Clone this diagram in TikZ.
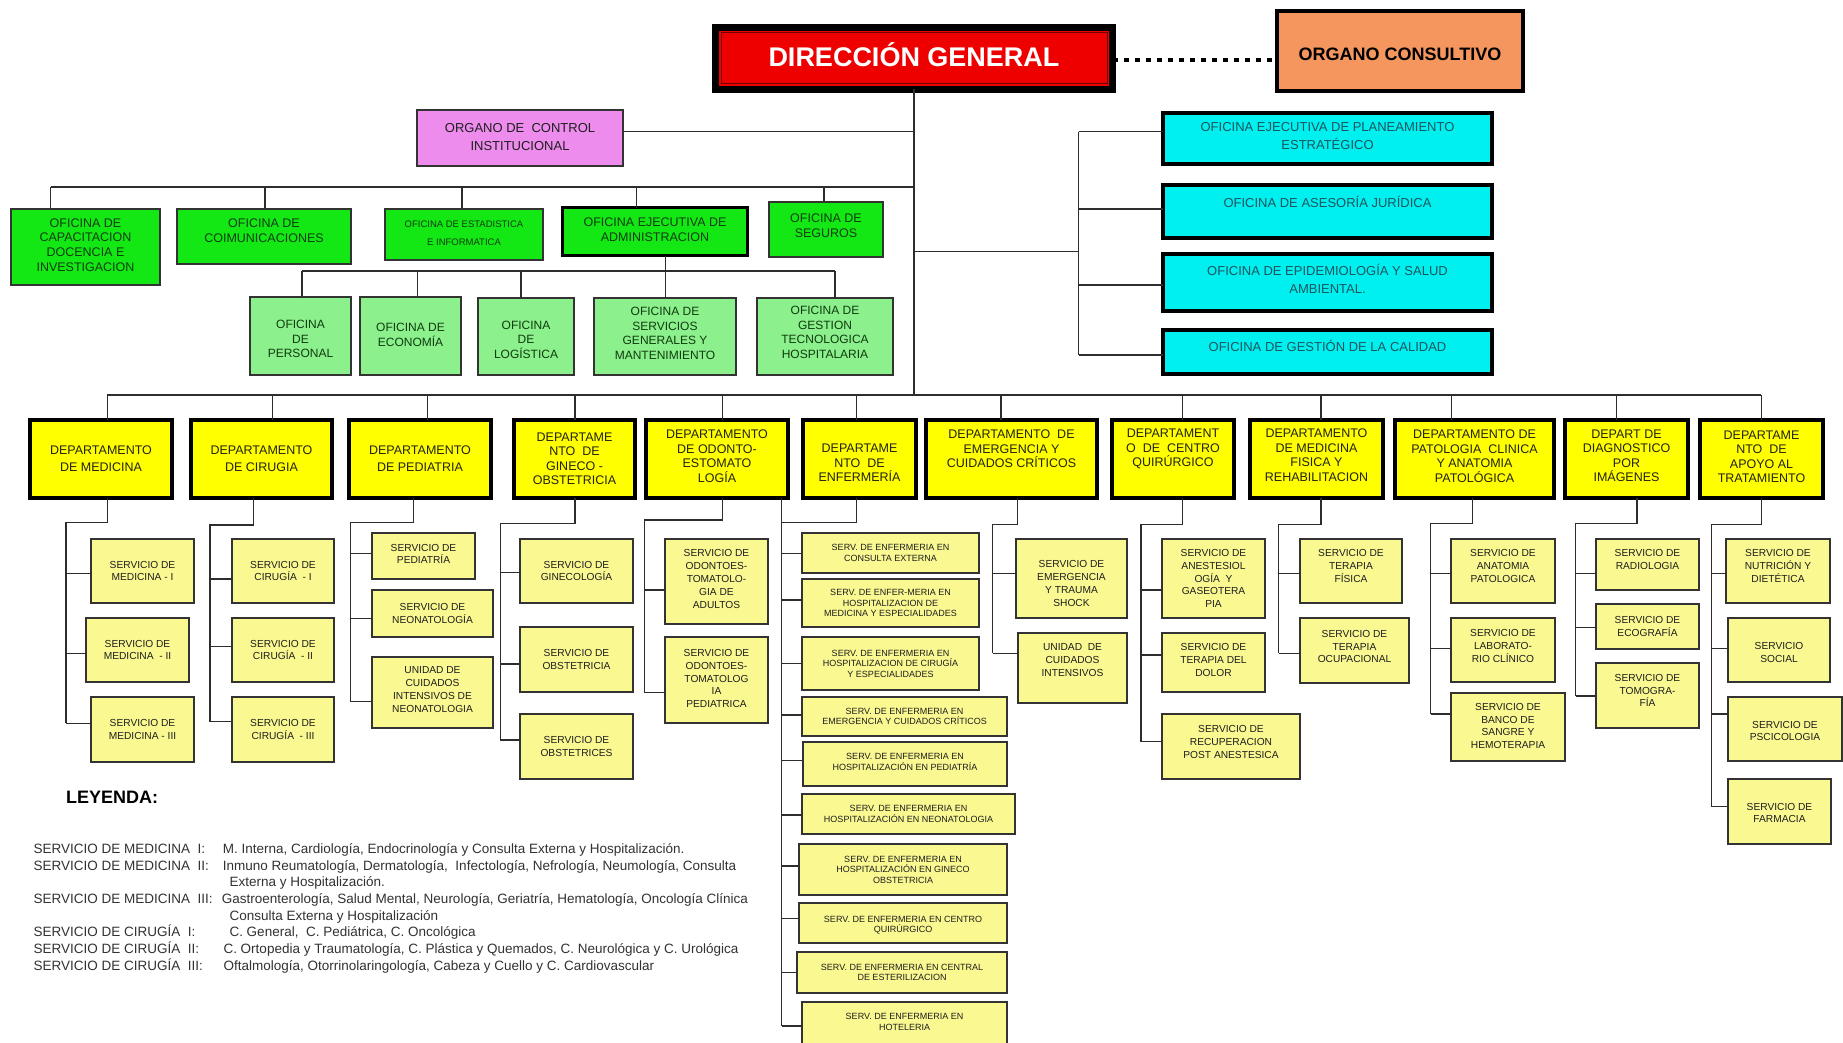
\documentclass[tikz,border=0pt]{standalone}
\usepackage{fontspec}
\setmainfont{Liberation Sans}
\definecolor{dgred}{RGB}{238,0,0}
\definecolor{dgdark}{RGB}{110,0,0}
\definecolor{ocorange}{RGB}{245,150,95}
\definecolor{pinkbox}{RGB}{238,140,238}
\definecolor{grnbox}{RGB}{20,232,20}
\definecolor{lgrnbox}{RGB}{140,240,140}
\definecolor{cyanbox}{RGB}{0,240,240}
\definecolor{yelbox}{RGB}{255,255,0}
\definecolor{pyelbox}{RGB}{250,248,145}
\definecolor{linec}{RGB}{45,45,45}
\definecolor{gtxt}{RGB}{15,60,15}
\definecolor{cytxt}{RGB}{25,85,95}
\definecolor{dtxt}{RGB}{35,35,20}
\definecolor{stxt}{RGB}{30,30,30}
\definecolor{legc}{RGB}{50,50,50}
\newcommand\obox[9]{%
  \pgfmathsetmacro\oxc{(#4+#6)/2}%
  \pgfmathsetmacro\oyc{(#5+#7)/2}%
  \pgfmathsetmacro\oyt{(#5+#7)/2+(#8)}%
  \pgfmathsetmacro\ow{#6-#4}%
  \pgfmathsetmacro\oh{#7-#5}%
  \node[#1, minimum width=\ow pt, minimum height=\oh pt] (#3) at (\oxc,\oyc) {};%
  \node[#2] (#3t) at (\oxc,\oyt) {#9};%
}
\begin{document}
\begin{tikzpicture}[x=1pt,y=-1pt,
  conn/.style={draw=linec, line width=1.3pt},
  bxbase/.style={rectangle, inner sep=0pt, outer sep=0pt},
  thinb/.style={bxbase, draw=black!80, line width=1.3pt},
  thickb/.style={bxbase, draw=black, line width=3.8pt},
  txtb/.style={align=center, inner sep=0pt},
  dgbox/.style={bxbase, draw=black, line width=7pt, fill=dgred},
  ocbox/.style={thickb, fill=ocorange},
  pkbox/.style={thinb, fill=pinkbox},
  gbox/.style={thinb, fill=grnbox},
  gboxk/.style={thickb, line width=3.2pt, fill=grnbox},
  lgbox/.style={thinb, fill=lgrnbox},
  cybox/.style={thickb, line width=3.5pt, fill=cyanbox},
  dbox/.style={thickb, fill=yelbox},
  sbox/.style={thinb, fill=pyelbox},
  dgt/.style={txtb, text=white, font=\fontsize{27}{32}\selectfont\bfseries},
  oct/.style={txtb, text=black, font=\fontsize{18}{22}\selectfont\bfseries},
  pkt/.style={txtb, text=stxt, font=\fontsize{13}{18}\selectfont},
  gt/.style={txtb, text=gtxt, font=\fontsize{12.5}{14.7}\selectfont},
  gst/.style={txtb, text=gtxt, font=\fontsize{9.5}{18}\selectfont},
  lgt/.style={txtb, text=gtxt, font=\fontsize{12}{14.5}\selectfont},
  cyt/.style={txtb, text=cytxt, font=\fontsize{13}{18}\selectfont},
  dt/.style={txtb, text=dtxt, font=\fontsize{12.5}{14.5}\selectfont},
  st/.style={txtb, text=stxt, font=\fontsize{10.2}{12.8}\selectfont},
  et/.style={txtb, text=stxt, font=\fontsize{9}{10.6}\selectfont},
  legt/.style={anchor=base west, inner sep=0pt, text=legc, font=\fontsize{13.5}{16}\selectfont},
  leyt/.style={anchor=base west, inner sep=0pt, text=black, font=\fontsize{18}{22}\selectfont\bfseries},
  dotline/.style={draw=black, line width=4pt, dash pattern=on 5pt off 6pt}
]
\useasboundingbox (0,0) rectangle (1843,1043);
\clip (0,0) rectangle (1843,1043);
\fill[white] (0,0) rectangle (1843,1043);

% ---------- top ----------
\obox{dgbox}{dgt}{dg}{715.5}{27.5}{1112.5}{89.5}{-3.5}{DIRECCIÓN GENERAL}
\draw[dgdark, line width=1pt] ([shift={(5.5,5.5)}]dg.north west) rectangle ([shift={(-5.5,-5.5)}]dg.south east);
\obox{ocbox}{oct}{oc}{1277}{11}{1523}{91}{3.5}{ORGANO CONSULTIVO}
\obox{pkbox}{pkt}{oci}{417}{110}{623}{166}{-1}{ORGANO DE~ CONTROL\\INSTITUCIONAL}

% green row
\obox{gbox}{gt}{g1}{11}{209}{160}{285}{-2}{OFICINA DE\\CAPACITACION\\DOCENCIA E\\INVESTIGACION}
\obox{gbox}{gt}{g2}{177}{209}{351}{264}{-6}{OFICINA DE\\COIMUNICACIONES}
\obox{gbox}{gst}{g3}{385}{209}{543}{260}{-1}{OFICINA DE ESTADISTICA\\E INFORMATICA}
\obox{gboxk}{gt}{g4}{562.5}{207.5}{747.5}{255.5}{-2}{OFICINA EJECUTIVA DE\\ADMINISTRACION}
\obox{gbox}{gt}{g5}{769}{202}{883}{257}{-4}{OFICINA DE\\SEGUROS}

% light green row
\obox{lgbox}{lgt}{l1}{250}{297}{351}{375}{3}{OFICINA\\DE\\PERSONAL}
\obox{lgbox}{lgt}{l2}{360}{297}{461}{375}{-1}{OFICINA DE\\ECONOMÍA}
\obox{lgbox}{lgt}{l3}{478}{298}{574}{375}{3}{OFICINA\\DE\\LOGÍSTICA}
\obox{lgbox}{lgt}{l4}{594}{298}{736}{375}{-3}{OFICINA DE\\SERVICIOS\\GENERALES Y\\MANTENIMIENTO}
\obox{lgbox}{lgt}{l5}{757}{298}{893}{375}{-4}{OFICINA DE\\GESTION\\TECNOLOGICA\\HOSPITALARIA}

% cyan column
\obox{cybox}{cyt}{c1}{1163}{113}{1492}{164}{-2}{OFICINA EJECUTIVA DE PLANEAMIENTO\\ESTRATÉGICO}
\obox{cybox}{cyt}{c2}{1163}{185}{1492}{238}{-10}{OFICINA DE ASESORÍA JURÍDICA}
\obox{cybox}{cyt}{c3}{1163}{254}{1492}{311}{-4}{OFICINA DE EPIDEMIOLOGÍA Y SALUD\\AMBIENTAL.}
\obox{cybox}{cyt}{c4}{1163}{330}{1492}{374}{-6}{OFICINA DE GESTIÓN DE LA CALIDAD}

% ---------- departments ----------
\obox{dbox}{dt}{d1}{30}{420}{172}{498}{0}{DEPARTAMENTO\\[2.5pt]DE MEDICINA}
\obox{dbox}{dt}{d2}{191}{420}{332}{498}{0}{DEPARTAMENTO\\[2.5pt]DE CIRUGIA}
\obox{dbox}{dt}{d3}{349}{420}{491}{498}{0}{DEPARTAMENTO\\[2.5pt]DE PEDIATRIA}
\obox{dbox}{dt}{d4}{514}{420}{635}{498}{0}{DEPARTAME\\NTO~ DE\\GINECO -\\OBSTETRICIA}
\obox{dbox}{dt}{d5}{646}{420}{788}{498}{-3}{DEPARTAMENTO\\DE ODONTO-\\ESTOMATO\\LOGÍA}
\obox{dbox}{dt}{d6}{803}{420}{916}{498}{4}{DEPARTAME\\NTO~ DE\\ENFERMERÍA}
\obox{dbox}{dt}{d7}{926}{420}{1097}{498}{-10}{DEPARTAMENTO~ DE\\EMERGENCIA Y\\CUIDADOS CRÍTICOS}
\obox{dbox}{dt}{d8}{1112}{420}{1234}{498}{-10}{DEPARTAMENT\\O~ DE~ CENTRO\\QUIRÚRGICO}
\obox{dbox}{dt}{d9}{1250}{420}{1383}{498}{-4}{DEPARTAMENTO\\DE MEDICINA\\FISICA Y\\REHABILITACION}
\obox{dbox}{dt}{d10}{1395}{420}{1554}{498}{-3}{DEPARTAMENTO DE\\PATOLOGIA~ CLINICA\\Y ANATOMIA\\PATOLÓGICA}
\obox{dbox}{dt}{d11}{1565}{420}{1688}{498}{-3}{DEPART DE\\DIAGNOSTICO\\POR\\IMÁGENES}
\obox{dbox}{dt}{d12}{1700}{420}{1823}{498}{-2}{DEPARTAME\\NTO~ DE\\APOYO AL\\TRATAMIENTO}

% ---------- services ----------
\obox{sbox}{st}{s11}{91}{539}{194}{603}{0}{SERVICIO DE\\MEDICINA - I}
\obox{sbox}{st}{s12}{86}{618}{189}{682}{0}{SERVICIO DE\\MEDICINA~ - II}
\obox{sbox}{st}{s13}{91}{697}{194}{762}{0}{SERVICIO DE\\MEDICINA - III}
\obox{sbox}{st}{s21}{232}{539}{334}{603}{0}{SERVICIO DE\\CIRUGÍA~ - I}
\obox{sbox}{st}{s22}{232}{618}{334}{682}{0}{SERVICIO DE\\CIRUGÍA~ - II}
\obox{sbox}{st}{s23}{232}{697}{334}{762}{0}{SERVICIO DE\\CIRUGÍA~ - III}
\obox{sbox}{st}{s31}{372}{533}{475}{579}{-2}{SERVICIO DE\\PEDIATRÍA}
\obox{sbox}{st}{s32}{372}{590}{493}{637}{0}{SERVICIO DE\\NEONATOLOGÍA}
\obox{sbox}{st}{s33}{372}{657}{493}{728}{-3}{UNIDAD DE\\CUIDADOS\\INTENSIVOS DE\\NEONATOLOGIA}
\obox{sbox}{st}{s41}{520}{539}{633}{603}{0}{SERVICIO DE\\GINECOLOGÍA}
\obox{sbox}{st}{s42}{520}{627}{633}{692}{0}{SERVICIO DE\\OBSTETRICIA}
\obox{sbox}{st}{s43}{520}{714}{633}{779}{0}{SERVICIO DE\\OBSTETRICES}
\obox{sbox}{st}{s51}{665}{539}{768}{624}{-2.5}{SERVICIO DE\\ODONTOES-\\TOMATOLO-\\GIA DE\\ADULTOS}
\obox{sbox}{st}{s52}{665}{637}{768}{723}{-1.5}{SERVICIO DE\\ODONTOES-\\TOMATOLOG\\IA\\PEDIATRICA}
\obox{sbox}{et}{e1}{802}{533}{979}{573}{0}{SERV. DE ENFERMERIA EN\\CONSULTA EXTERNA}
\obox{sbox}{et}{e2}{802}{579}{979}{627}{0}{SERV. DE ENFER-MERIA EN\\HOSPITALIZACION DE\\MEDICINA Y ESPECIALIDADES}
\obox{sbox}{et}{e3}{802}{637}{979}{690}{0}{SERV. DE ENFERMERIA EN\\HOSPITALIZACION DE CIRUGÍA\\Y ESPECIALIDADES}
\obox{sbox}{et}{e4}{802}{697}{1007}{736}{0}{SERV. DE ENFERMERIA EN\\EMERGENCIA Y CUIDADOS CRÍTICOS}
\obox{sbox}{et}{e5}{803}{742}{1007}{786}{-2}{SERV. DE ENFERMERIA EN\\HOSPITALIZACIÓN EN PEDIATRÍA}
\obox{sbox}{et}{e6}{802}{794}{1015}{834}{0}{SERV. DE ENFERMERIA EN\\HOSPITALIZACIÓN EN NEONATOLOGIA}
\obox{sbox}{et}{e7}{799}{844}{1007}{895}{0}{SERV. DE ENFERMERIA EN\\HOSPITALIZACIÓN EN GINECO\\OBSTETRICIA}
\obox{sbox}{et}{e8}{799}{903}{1007}{943}{2}{SERV. DE ENFERMERIA EN CENTRO\\QUIRÚRGICO}
\obox{sbox}{et}{e9}{797}{952}{1007}{993}{0}{SERV. DE ENFERMERIA EN CENTRAL\\DE ESTERILIZACION}
\obox{sbox}{et}{e10}{802}{1002}{1007}{1060}{-9}{SERV. DE ENFERMERIA EN\\HOTELERIA}
\obox{sbox}{st}{s71}{1016}{539}{1127}{618}{5}{SERVICIO DE\\EMERGENCIA\\Y TRAUMA\\SHOCK}
\obox{sbox}{st}{s72}{1018}{633}{1127}{703}{-8}{UNIDAD~ DE\\CUIDADOS\\INTENSIVOS}
\obox{sbox}{st}{s81}{1162}{539}{1265}{618}{0}{SERVICIO DE\\ANESTESIOL\\OGÍA~ Y\\GASEOTERA\\PIA}
\obox{sbox}{st}{s82}{1162}{633}{1265}{692}{-2.5}{SERVICIO DE\\TERAPIA DEL\\DOLOR}
\obox{sbox}{st}{s83}{1162}{714}{1300}{779}{-4.5}{SERVICIO DE\\RECUPERACION\\POST ANESTESICA}
\obox{sbox}{st}{s91}{1300}{539}{1402}{603}{-5}{SERVICIO DE\\TERAPIA\\FÍSICA}
\obox{sbox}{st}{s92}{1300}{618}{1409}{683}{-4}{SERVICIO DE\\TERAPIA\\OCUPACIONAL}
\obox{sbox}{st}{s101}{1451}{539}{1555}{603}{-5}{SERVICIO DE\\ANATOMIA\\PATOLOGICA}
\obox{sbox}{st}{s102}{1451}{618}{1555}{682}{-4}{SERVICIO DE\\LABORATO-\\RIO CLÍNICO}
\obox{sbox}{st}{s103}{1451}{693}{1565}{761}{-1}{SERVICIO DE\\BANCO DE\\SANGRE Y\\HEMOTERAPIA}
\obox{sbox}{st}{s111}{1596}{539}{1699}{590}{-5}{SERVICIO DE\\RADIOLOGIA}
\obox{sbox}{st}{s112}{1596}{604}{1699}{649}{0}{SERVICIO DE\\ECOGRAFÍA}
\obox{sbox}{st}{s113}{1596}{663}{1699}{728}{-5}{SERVICIO DE\\TOMOGRA-\\FÍA}
\obox{sbox}{st}{s121}{1726}{539}{1830}{603}{-5}{SERVICIO DE\\NUTRICIÓN Y\\DIETÉTICA}
\obox{sbox}{st}{s122}{1728}{618}{1830}{682}{2.5}{SERVICIO\\SOCIAL}
\obox{sbox}{st}{s123}{1728}{697}{1842}{761}{2}{SERVICIO DE\\PSCICOLOGIA}
\obox{sbox}{st}{s124}{1728}{779}{1831}{844}{1.5}{SERVICIO DE\\FARMACIA}

% ---------- connectors: top ----------
\draw[dotline] (dg.east |- 0,60) -- (oc.west |- 0,60);
\coordinate (tD1) at (107.3,395);
\coordinate (tD12) at (1761.3,395);
\draw[conn] (dg.south) -- (dg.south |- tD1);
\draw[conn] (oci.east |- 0,131.7) -- (dg.south |- 0,131.7);
\coordinate (gb) at (50.7,187);
\draw[conn] (gb) -- (gb -| dg.south);
\foreach \c/\x in {g1/50.7, g2/265, g3/462, g4/636.7, g5/824}
  \draw[conn] (\x,187) -- (\c.north -| \x,187);
\coordinate (ab) at (665.3,271);
\coordinate (abL) at (301.7,271);
\coordinate (abR) at (835,271);
\draw[conn] (ab |- g4.south) -- (ab);
\draw[conn] (abL) -- (abR);
\foreach \c/\x in {l1/302, l2/417.3, l3/521, l4/665.3, l5/835}
  \draw[conn] (\x,271) -- (\c.north -| \x,271);
\coordinate (cv) at (1078.7,251.7);
\draw[conn] (cv -| dg.south) -- (cv);
\draw[conn] (cv |- 0,131.7) -- (cv |- 0,355);
\foreach \c/\y in {c1/131.7, c2/209, c3/285, c4/355}
  \draw[conn] (cv |- 0,\y) -- (\c.west |- 0,\y);

% ---------- connectors: departments ----------
\draw[conn] (tD1) -- (tD12);
\foreach \i/\x in {1/107.3, 2/272.7, 3/427.7, 4/575, 5/722.7, 6/856.7, 7/1001, 8/1182.7, 9/1321, 10/1451.3, 11/1616.3, 12/1761.3}
  \draw[conn] (\x,395) -- (d\i.north -| \x,395);
\foreach \i/\bxx/\ey/\sx/\ly in {1/107.3/522.7/66/723.3, 2/253.3/525/210/721.7, 3/413.3/522.7/350.7/701.7, 4/575/523.3/500.3/740, 5/722.7/520/644.3/692.7, 7/1017.7/524.3/992.7/653.3, 8/1182.7/524.3/1141/741.7, 9/1321/524.3/1278.7/653.3, 10/1472.3/523.3/1430.7/714, 11/1637/523.3/1575.7/696, 12/1761.3/524.3/1711.3/806.7}{
  \coordinate (bk\i) at (\bxx,\ey);
  \coordinate (sp\i) at (\sx,\ey);
  \draw[conn] (bk\i |- d\i.south) -- (bk\i) -- (sp\i) -- (sp\i |- 0,\ly);
}
\coordinate (bk6) at (856.7,522.3);
\coordinate (sp6) at (781.7,522.3);
\draw[conn] (bk6 |- d6.south) -- (bk6) -- (sp6);
\draw[conn] (sp6 |- d5.south) -- (sp6 |- 0,1026);

\foreach \s/\c/\y in {1/s11/573.3, 1/s12/653.3, 1/s13/723.3,
  2/s21/579, 2/s22/646.7, 2/s23/721.7,
  3/s31/553.3, 3/s32/618.3, 3/s33/701.7,
  4/s41/572.7, 4/s42/664, 4/s43/740,
  5/s51/590, 5/s52/692.7,
  6/e1/553.3, 6/e2/600, 6/e3/663.3, 6/e4/715, 6/e5/760.7, 6/e6/815, 6/e7/866, 6/e8/918.3, 6/e9/972.3, 6/e10/1026,
  7/s71/573.3, 7/s72/653.3,
  8/s81/590, 8/s82/655, 8/s83/741.7,
  9/s91/573.3, 9/s92/653.3,
  10/s101/573.3, 10/s102/648.3, 10/s103/714,
  11/s111/573.3, 11/s112/627.3, 11/s113/696,
  12/s121/573.3, 12/s122/648.3, 12/s123/714, 12/s124/806.7}
  \draw[conn] (sp\s |- 0,\y) -- (\c.west |- 0,\y);

% ---------- legend ----------
\node[leyt] (ley) at (66,803.3) {LEYENDA:};
\node[legt] (la1) at (33.3,853.3) {SERVICIO DE MEDICINA~ I:};
\node[legt] (lb1) at (222.7,853.3) {M. Interna, Cardiología, Endocrinología y Consulta Externa y Hospitalización.};
\node[legt] (la2) at (33.3,870) {SERVICIO DE MEDICINA~ II:};
\node[legt] (lb2) at (222.7,870) {Inmuno Reumatología, Dermatología,~ Infectología, Nefrología, Neumología, Consulta};
\node[legt] (lc2) at (229.3,886.7) {Externa y Hospitalización.};
\node[legt] (la3) at (33.3,903.3) {SERVICIO DE MEDICINA~ III:};
\node[legt] (lb3) at (221.7,903.3) {Gastroenterología, Salud Mental, Neurología, Geriatría, Hematología, Oncología Clínica};
\node[legt] (lc3) at (229.3,920) {Consulta Externa y Hospitalización};
\node[legt] (la4) at (33.3,936.7) {SERVICIO DE CIRUGÍA~ I:};
\node[legt] (lb4) at (229.3,936.7) {C. General,~ C. Pediátrica, C. Oncológica};
\node[legt] (la5) at (33.3,953.3) {SERVICIO DE CIRUGÍA~ II:};
\node[legt] (lb5) at (223.3,953.3) {C. Ortopedia y Traumatología, C. Plástica y Quemados, C. Neurológica y C. Urológica};
\node[legt] (la6) at (33.3,970) {SERVICIO DE CIRUGÍA~ III:};
\node[legt] (lb6) at (223.3,970) {Oftalmología, Otorrinolaringología, Cabeza y Cuello y C. Cardiovascular};
\end{tikzpicture}
\end{document}
